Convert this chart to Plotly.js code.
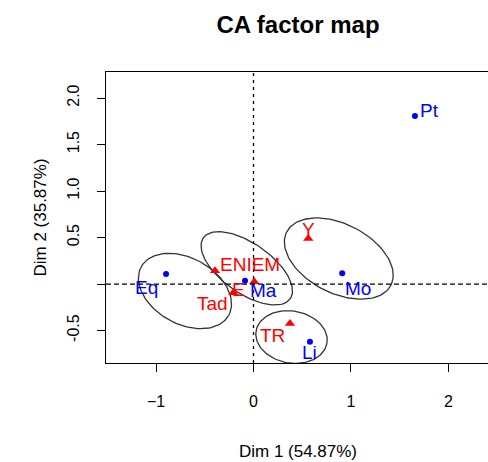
<!DOCTYPE html>
<html><head><meta charset="utf-8">
<script src="https://cdn.plot.ly/plotly-3.0.1.min.js"></script>
<style>html,body{margin:0;padding:0;overflow:hidden;background:#fff}</style>
</head><body><div id="chart"></div>
<script>
// Row points (red triangles)
const rowLabels = ['ENIEM', 'Tad', 'E', 'Y', 'TR'];
const rowDim1 = [-0.395, -0.207, 0.008, 0.562, 0.374];
const rowDim2 = [0.143, -0.094, 0.025, 0.491, -0.423];
// Column points (blue dots)
const colLabels = ['Pt', 'Eq', 'Ma', 'Mo', 'Li'];
const colDim1 = [1.656, -0.897, -0.087, 0.910, 0.579];
const colDim2 = [1.806, 0.108, 0.036, 0.115, -0.620];
// Ellipses (centre, semi-axes in Dim-1 units, tilt in degrees)
const ellCenter1 = [-0.703, -0.069, 0.875, 0.390];
const ellCenter2 = [-0.075, 0.169, 0.274, -0.570];
const ellMajor = [0.513, 0.544, 0.600, 0.369];
const ellMinor = [0.338, 0.256, 0.354, 0.267];
const ellTilt = [29, 35, 27, 10];
// Axis ticks
const xTickVals = [-1, 0, 1, 2];
const yTickVals = [-0.5, 0, 0.5, 1, 1.5, 2];
const yTickText = ['-0.5', '', '0.5', '1.0', '1.5', '2.0'];

const W = 492, H = 462;
const M = {l: 106, r: 2, t: 72, b: 99};
const xr = [-1.513, 2.426], yr = [-0.849, 2.280];
const pw = W - M.l - M.r, ph = H - M.t - M.b;
const sx = pw / (xr[1] - xr[0]), sy = ph / (yr[1] - yr[0]);

const font = 'Liberation Sans, Arial, sans-serif';
const traces = [];
for (let i = 0; i < ellCenter1.length; i++) {
  const A = ellMajor[i] * sx, B = ellMinor[i] * sx, th = ellTilt[i] * Math.PI / 180;
  const xs = [], ys = [];
  for (let k = 0; k <= 120; k++) {
    const t = 2 * Math.PI * k / 120;
    const ux = A * Math.cos(t) * Math.cos(th) - B * Math.sin(t) * Math.sin(th);
    const uy = A * Math.cos(t) * Math.sin(th) + B * Math.sin(t) * Math.cos(th);
    xs.push(ellCenter1[i] + ux / sx);
    ys.push(ellCenter2[i] - uy / sy);
  }
  traces.push({x: xs, y: ys, mode: 'lines', line: {color: '#333', width: 1.3}, hoverinfo: 'skip'});
}
traces.push({
  x: rowDim1, y: rowDim2, mode: 'markers',
  marker: {symbol: 'triangle-up', size: 9, color: '#ff0000'}
});
traces.push({
  x: colDim1, y: colDim2, mode: 'markers',
  marker: {symbol: 'circle', size: 6, color: '#0000ff'}
});

// label placement: [xanchor, xshift, yshift]
const rowPlace = [['left', 3, 6], ['right', -3, -11], ['right', -7, -8], ['center', 0, 9], ['right', -3, -12]];
const colPlace = [['left', 3, 6], ['right', -6, -13], ['left', 3, -10], ['left', 1, -15], ['center', 0, -11]];
const annotations = [];
function addLabels(xs, ys, labels, place, color) {
  for (let i = 0; i < labels.length; i++) {
    annotations.push({x: xs[i], y: ys[i], xref: 'x', yref: 'y', text: labels[i], showarrow: false,
      xanchor: place[i][0], yanchor: 'middle', xshift: place[i][1], yshift: place[i][2],
      font: {family: font, size: 19, color: color}});
  }
}
addLabels(rowDim1, rowDim2, rowLabels, rowPlace, '#ff0000');
addLabels(colDim1, colDim2, colLabels, colPlace, '#0000ff');

const layout = {
  width: W, height: H, margin: M,
  paper_bgcolor: '#fff', plot_bgcolor: '#fff',
  showlegend: false, hovermode: false,
  font: {family: font, color: '#000'},
  title: {text: '<b>CA factor map</b>', font: {family: font, size: 24, color: '#000'},
          x: 0.5, xref: 'paper', xanchor: 'center', y: 1 - 25 / H, yref: 'container', yanchor: 'middle'},
  xaxis: {range: xr, tickvals: xTickVals, ticks: 'outside', ticklen: 8, tickcolor: '#000', tickwidth: 1,
          showline: true, mirror: true, linecolor: '#000', linewidth: 1.3, showgrid: false, zeroline: false,
          tickfont: {family: font, size: 16, color: '#000'}, ticklabelstandoff: 15,
          title: {text: 'Dim 1 (54.87%)', font: {family: font, size: 17, color: '#000'}, standoff: 36}},
  yaxis: {range: yr, tickvals: yTickVals, ticktext: yTickText, tickangle: -90, ticks: 'outside', ticklen: 8,
          tickcolor: '#000', tickwidth: 1, showline: true, mirror: true, linecolor: '#000', linewidth: 1.3,
          showgrid: false, zeroline: false, tickfont: {family: font, size: 16, color: '#000'}, ticklabelstandoff: 11,
          title: {text: 'Dim 2 (35.87%)', font: {family: font, size: 17, color: '#000'}, standoff: 14}},
  annotations: annotations,
  shapes: [
    {type: 'line', xref: 'paper', yref: 'y', x0: 0, x1: 1, y0: 0, y1: 0, line: {color: '#000', width: 1.3, dash: '5px,3px'}},
    {type: 'line', xref: 'x', yref: 'paper', x0: 0, x1: 0, y0: 0, y1: 1, line: {color: '#000', width: 1.3, dash: '3px,4px'}}
  ]
};
Plotly.newPlot('chart', traces, layout, {staticPlot: true, displayModeBar: false});
</script></body></html>
